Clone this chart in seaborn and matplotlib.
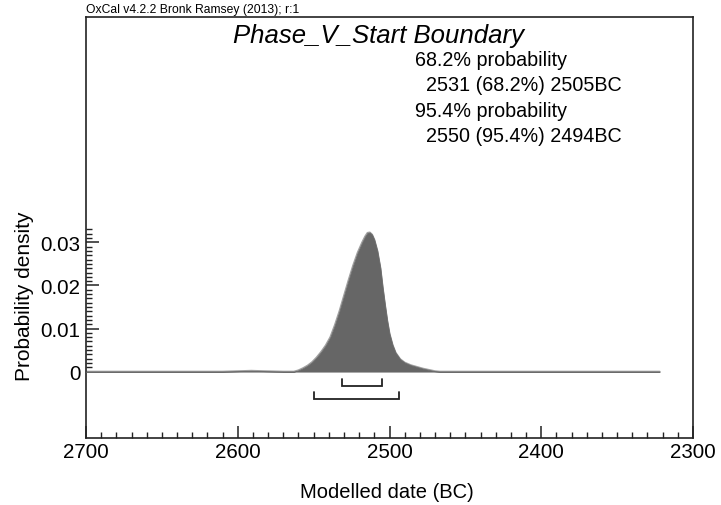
import numpy as np
import pandas as pd
import seaborn as sns
import matplotlib
matplotlib.use("Agg")
import matplotlib.pyplot as plt
import matplotlib.ticker as mtick

sns.set_style("white")
plt.rcParams['font.family'] = ['Liberation Sans', 'DejaVu Sans']
plt.rcParams['text.color'] = 'black'

# posterior density (years BC, probability density)
years = [2700, 2610, 2600, 2591, 2582, 2570, 2563, 2560, 2557, 2554, 2551, 2548,
         2545, 2542, 2539, 2536, 2533, 2530, 2527, 2524, 2521, 2518, 2516, 2514.5,
         2513, 2511.5, 2510, 2508, 2506, 2504.5, 2503, 2501.5, 2500, 2498, 2496,
         2493, 2490, 2486, 2482, 2478, 2474, 2470, 2467, 2322]
density = [0, 0, 0.0001, 0.0002, 0.0001, 0, 0, 0.0003, 0.0008, 0.0014, 0.0022, 0.0033,
           0.0046, 0.0061, 0.0080, 0.0108, 0.0140, 0.0176, 0.0212, 0.0246, 0.0276,
           0.0300, 0.0314, 0.0322, 0.0323, 0.0318, 0.0306, 0.0280, 0.0240, 0.0195,
           0.0155, 0.0118, 0.0088, 0.0062, 0.0044, 0.0029, 0.0021, 0.0015, 0.0011,
           0.0007, 0.0004, 0.0001, 0, 0]

# highest posterior density ranges
range_labels = ['68.2%', '95.4%']
range_from = [2531, 2550]
range_to = [2505, 2494]
bracket_y = [-0.0033, -0.0063]

title = 'Phase_V_Start Boundary'
summary = ['68.2% probability', '  2531 (68.2%) 2505BC',
           '95.4% probability', '  2550 (95.4%) 2494BC']

df = pd.DataFrame({'year': years, 'density': density})

fig = plt.figure(figsize=(7.21, 5.06), dpi=100)
ax = fig.add_axes([0.1193, 0.1324, 0.8419, 0.832])

sns.lineplot(data=df, x='year', y='density', ax=ax, color='#a0a0a0', linewidth=1.4,
             zorder=2, estimator=None)
ax.fill_between(df['year'], 0, df['density'], facecolor='#666666',
                edgecolor='#6a6a6a', linewidth=0.5, zorder=3)

for a, b, y in zip(range_from, range_to, bracket_y):
    ax.plot([a, a, b, b], [y + 0.0015, y, y, y + 0.0015], color='#222222',
            linewidth=1.3, solid_joinstyle='miter')

ax.set_xlim(2700, 2300)
ax.set_ylim(-0.0154, 0.0823)

ax.set_xticks([2700, 2600, 2500, 2400, 2300])
ax.set_xticklabels(['2700', '2600', '2500', '2400', '2300'])
ax.xaxis.set_minor_locator(mtick.MultipleLocator(10))
ax.set_yticks([0, 0.01, 0.02, 0.03])
ax.set_yticklabels(['0', '0.01', '0.02', '0.03'])
ax.yaxis.set_minor_locator(mtick.FixedLocator([i * 0.001 for i in range(1, 34)]))

ax.tick_params(axis='both', which='major', direction='in', length=9, width=1.1,
               color='#222222', labelcolor='black', labelsize=14.8,
               bottom=True, left=True, top=False, right=False)
ax.tick_params(axis='both', which='minor', direction='in', length=4.5, width=1,
               color='#222222', bottom=True, left=True, top=False, right=False)
ax.tick_params(axis='x', pad=3)
ax.tick_params(axis='y', pad=4)

for s in ax.spines.values():
    s.set_color('#222222')
    s.set_linewidth(1.2)

ax.set_xlabel('')
ax.set_ylabel('')
fig.text(0.537, 0.0257, 'Modelled date (BC)', fontsize=14.5, ha='center', va='center')
fig.text(0.0333, 0.415, 'Probability density', fontsize=15, rotation=90,
         ha='center', va='center')

fig.text(0.525, 0.916, title, fontsize=18.5, style='italic', ha='center', va='baseline')
for i, line in enumerate(summary):
    fig.text(0.5756, 0.8814 - i * 0.0504, line, fontsize=14.2, ha='left', va='center')

fig.text(0.1193, 0.98, 'OxCal v4.2.2 Bronk Ramsey (2013); r:1', fontsize=8.7,
         ha='left', va='center')

fig.savefig('out.png', dpi=100)
